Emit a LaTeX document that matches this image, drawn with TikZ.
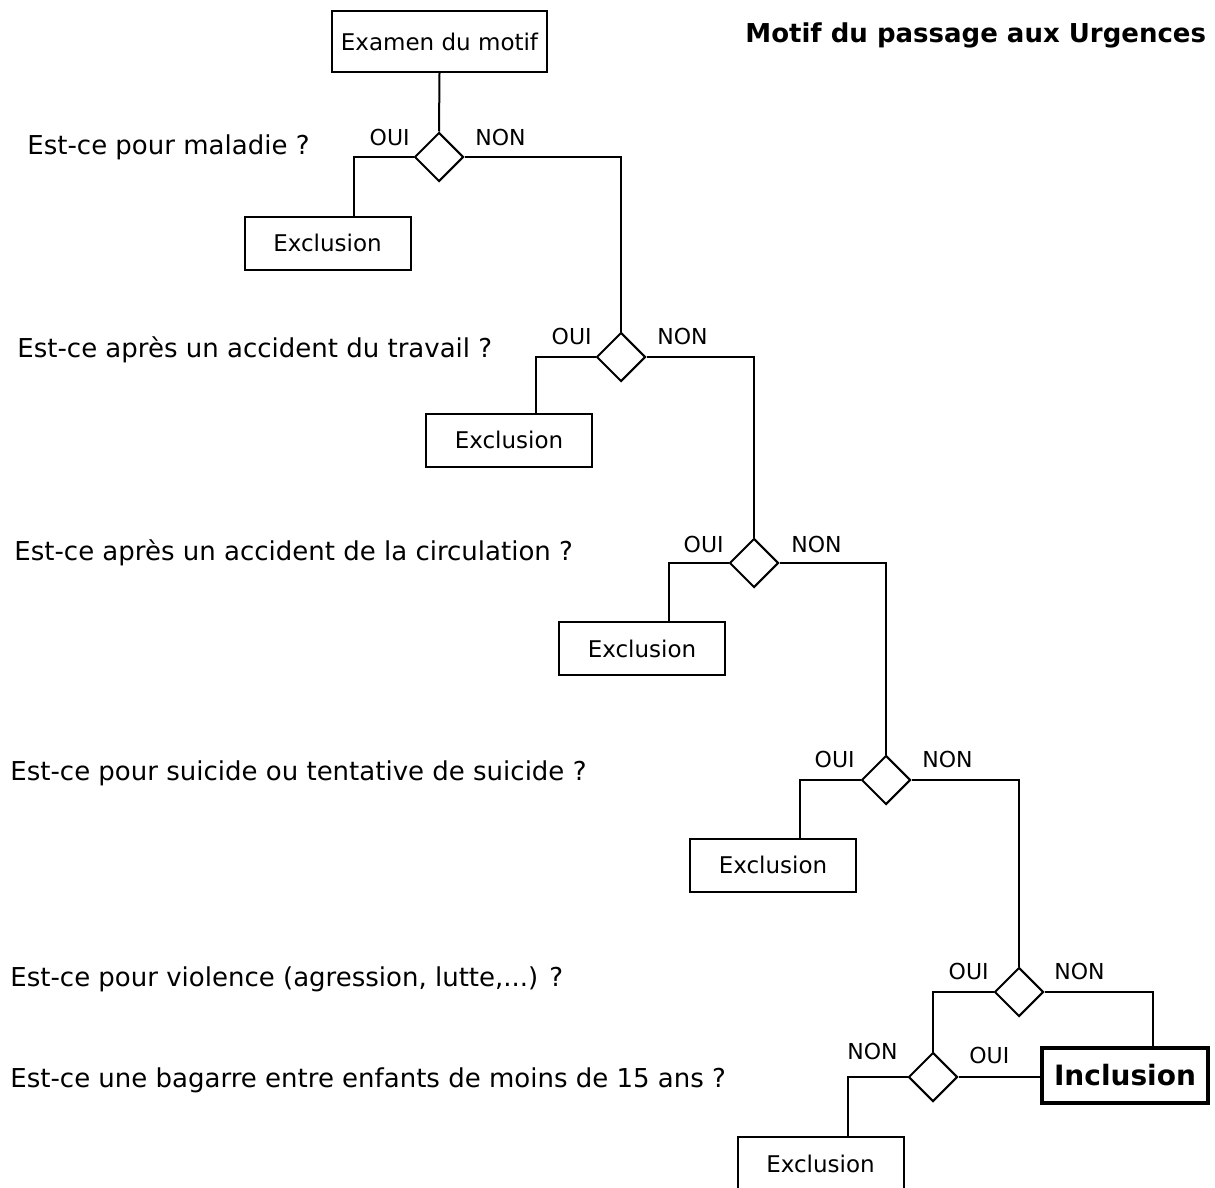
\documentclass[tikz,border=0pt]{standalone}
\usepackage{fontspec}
\setmainfont{DejaVu Sans}
\usetikzlibrary{shapes.geometric}
\begin{document}
\begin{tikzpicture}[x=0.5pt,y=-0.5pt,
  box/.style={draw, line width=1pt, rectangle, inner sep=0pt,
    minimum width=83pt, minimum height=26.5pt, font=\fontsize{11.5}{13}\selectfont},
  finalbox/.style={box, line width=1.6pt, font=\bfseries\fontsize{14}{16}\selectfont},
  choice/.style={draw, line width=1pt, diamond, inner sep=0pt,
    minimum width=24.5pt, minimum height=24.5pt},
  link/.style={line width=1pt},
  answer/.style={font=\fontsize{11}{13}\selectfont, inner sep=0pt},
  question/.style={font=\fontsize{13}{15}\selectfont, inner sep=0pt, anchor=base west},
]
\useasboundingbox (0,0) rectangle (1215,1188);
\clip (0,0) rectangle (1215,1188);

% title
\node[font=\bfseries\fontsize{13}{15}\selectfont, inner sep=0pt, anchor=base west]
  (title) at (745,43) {Motif du passage aux Urgences};

% start box
\node[box, minimum width=107.5pt, minimum height=30.5pt] (start) at (439.5,41.5) {Examen du motif};

% decision diamonds
\node[choice] (d1) at (439,157) {};
\node[choice] (d2) at (621,357) {};
\node[choice] (d3) at (754,563) {};
\node[choice] (d4) at (886,780) {};
\node[choice] (d5) at (1019,992) {};
\node[choice] (d6) at (933,1077) {};

% outcome boxes
\node[box] (e1) at (327.5,243) {Exclusion};
\node[box] (e2) at (509,440) {Exclusion};
\node[box] (e3) at (642,648.5) {Exclusion};
\node[box] (e4) at (773,865) {Exclusion};
\node[box] (e6) at (820.5,1163.5) {Exclusion};
\node[finalbox, minimum height=27.5pt] (incl) at (1125,1075.5) {Inclusion};

% questions
\node[question] (q1) at (27,155) {Est-ce pour maladie ?};
\node[question] (q2) at (17,357) {Est-ce après un accident du travail ?};
\node[question] (q3) at (14,560) {Est-ce après un accident de la circulation ?};
\node[question] (q4) at (10,780) {Est-ce pour suicide ou tentative de suicide ?};
\node[question] (q5) at (10,986) {Est-ce pour violence (agression, lutte,...) ?};
\node[question] (q6) at (10,1087) {Est-ce une bagarre entre enfants de moins de 15 ans ?};

% answer labels
\node[answer, anchor=base east] (y1) at (410,146) {OUI};
\node[answer, anchor=base west] (n1) at (475,146) {NON};
\node[answer, anchor=base east] (y2) at (592,344) {OUI};
\node[answer, anchor=base west] (n2) at (657,344) {NON};
\node[answer, anchor=base east] (y3) at (724,552) {OUI};
\node[answer, anchor=base west] (n3) at (791,552) {NON};
\node[answer, anchor=base east] (y4) at (855,767) {OUI};
\node[answer, anchor=base west] (n4) at (922,767) {NON};
\node[answer, anchor=base east] (y5) at (989,979) {OUI};
\node[answer, anchor=base west] (n5) at (1054,979) {NON};
\node[answer, anchor=base west] (y6) at (969,1063) {OUI};
\node[answer, anchor=base east] (n6) at (898,1059) {NON};

% connectors
\draw[link] (start.south) -- (d1.north);
\draw[link] (d1.west) -| (354,0 |- e1.north);
\draw[link] (d1.east) -| (d2.north);
\draw[link] (d2.west) -| (536,0 |- e2.north);
\draw[link] (d2.east) -| (d3.north);
\draw[link] (d3.west) -| (669,0 |- e3.north);
\draw[link] (d3.east) -| (d4.north);
\draw[link] (d4.west) -| (800,0 |- e4.north);
\draw[link] (d4.east) -| (d5.north);
\draw[link] (d5.east) -| (1153,0 |- incl.north);
\draw[link] (d5.west) -| (d6.north);
\draw[link] (d6.east) -- (d6.east -| incl.west);
\draw[link] (d6.west) -| (848,0 |- e6.north);
\end{tikzpicture}
\end{document}
